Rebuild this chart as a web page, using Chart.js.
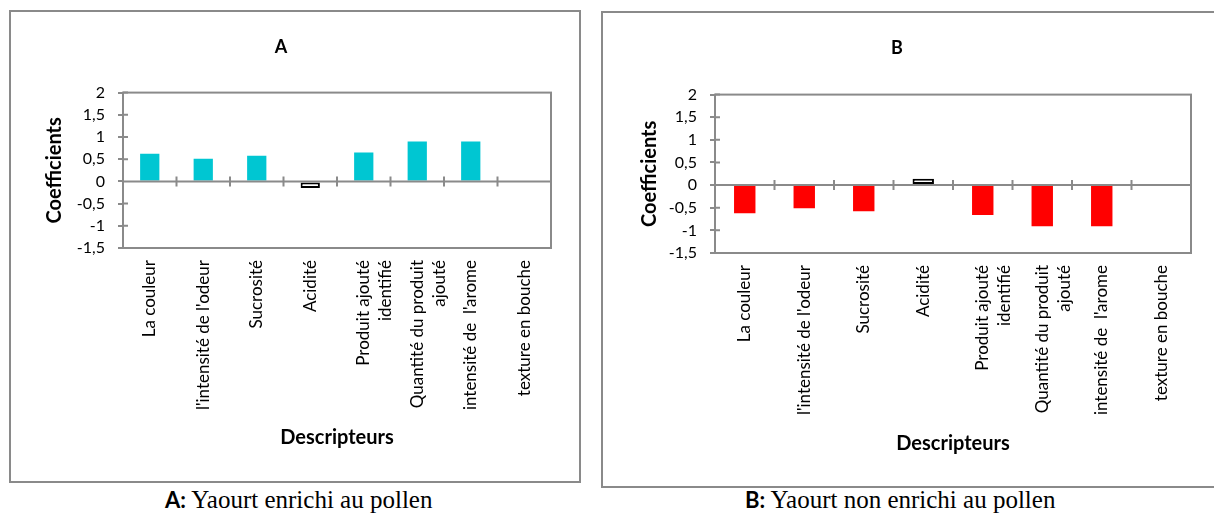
<!DOCTYPE html>
<html>
<head>
<meta charset="utf-8">
<script src="https://cdn.jsdelivr.net/npm/chart.js@4.4.1/dist/chart.umd.min.js"></script>
<style>
  html, body { margin: 0; padding: 0; background: #fff; width: 1214px; height: 521px; overflow: hidden; }
  .frame { position: absolute; border: 2px solid #8a8a8a; box-sizing: border-box; }
  .frame div { position: relative; width: 100%; height: 100%; }
  .caption { position: absolute; top: 486px; font-family: 'Liberation Serif', 'Times New Roman', serif; font-size: 25px; color: #000; white-space: nowrap; }
  .caption b { font-family: Lato, 'Open Sans', sans-serif; font-weight: 700; font-size: 22px; }
</style>
</head>
<body>
<div class="frame" style="left:9px; top:10px; width:572px; height:473px;"><div><canvas id="chartA"></canvas></div></div>
<div class="frame" style="left:601px; top:11px; width:620px; height:477px;"><div><canvas id="chartB"></canvas></div></div>
<div class="caption" style="left:165px;"><b>A:</b> Yaourt enrichi au pollen</div>
<div class="caption" style="left:745px;"><b>B:</b> Yaourt non enrichi au pollen</div>
<script>
'use strict'

const categories = [
  'La couleur',
  "l'intensité de l'odeur",
  'Sucrosité',
  'Acidité',
  ['Produit ajouté', 'identifié'],
  ['Quantité du produit', 'ajouté'],
  "intensité de  l'arome",
  'texture en bouche',
]

const valuesA = [0.62, 0.51, 0.58, -0.15, 0.65, 0.9, 0.9, 0]
const valuesB = [-0.62, -0.51, -0.58, 0.14, -0.66, -0.91, -0.91, 0]

const yTicks = [-1.5, -1, -0.5, 0, 0.5, 1, 1.5, 2]

const font = 'Lato'
const gray = '#8a8a8a'

// frame around plot area, inner half of the y ticks, zero line with category ticks
const plotFrame = {
  id: 'plotFrame',
  afterDatasetsDraw(chart) {
    const { ctx, chartArea, scales } = chart
    ctx.save()
    ctx.strokeStyle = gray
    ctx.lineWidth = 2
    ctx.strokeRect(chartArea.left, chartArea.top, chartArea.right - chartArea.left, chartArea.bottom - chartArea.top)
    ctx.beginPath()
    scales.y.ticks.forEach((t) => {
      const y = scales.y.getPixelForValue(t.value)
      ctx.moveTo(chartArea.left, y)
      ctx.lineTo(chartArea.left + 5, y)
    })
    const y0 = scales.y.getPixelForValue(0)
    ctx.moveTo(chartArea.left, y0)
    ctx.lineTo(chartArea.right, y0)
    for (let i = 1; i < categories.length; i++) {
      const x = (scales.x.getPixelForValue(i - 1) + scales.x.getPixelForValue(i)) / 2
      ctx.moveTo(x, y0 - 5)
      ctx.lineTo(x, y0 + 5)
    }
    ctx.stroke()
    ctx.restore()
  },
}

function makeChart(id, title, values, color, p) {
  const ctx = document.getElementById(id).getContext('2d')
  const colors = values.map((v, i) => (i === 3 ? '#ffffff' : color))
  const borders = values.map((v, i) => (i === 3 ? '#000000' : color))
  const widths = values.map((v, i) => (i === 3 ? 2 : 0))

  return new Chart(ctx, {
    type: 'bar',
    data: {
      labels: categories,
      datasets: [
        {
          data: values,
          backgroundColor: colors,
          borderColor: borders,
          borderWidth: widths,
          borderSkipped: false,
          categoryPercentage: 1,
          barPercentage: 0.36,
        },
      ],
    },
    options: {
      responsive: true,
      maintainAspectRatio: false,
      animation: false,
      layout: { padding: { left: 0, right: 28, top: 0, bottom: 0 } },
      scales: {
        x: {
          grid: { display: false, drawTicks: false },
          border: { display: false },
          ticks: {
            autoSkip: false,
            minRotation: 90,
            maxRotation: 90,
            padding: 12,
            color: '#000',
            font: { family: font, size: 17, lineHeight: 1.3 },
          },
          title: {
            display: true,
            text: 'Descripteurs',
            color: '#000',
            font: { family: font, size: 20, weight: 'bold' },
            padding: { top: 0, bottom: p.xTitleBottom },
          },
          afterFit: (s) => { s.height = p.xHeight },
        },
        y: {
          min: -1.5,
          max: 2,
          afterBuildTicks: (s) => { s.ticks = yTicks.map((v) => ({ value: v })) },
          grid: {
            drawOnChartArea: false,
            drawTicks: true,
            tickLength: 5,
            color: gray,
            lineWidth: 2,
          },
          border: { display: true, color: gray, width: 2 },
          ticks: {
            autoSkip: false,
            padding: 13,
            color: '#000',
            font: { family: font, size: 16 },
            callback: (v) => String(v).replace('.', ','),
          },
          title: {
            display: true,
            text: 'Coefficients',
            color: '#000',
            font: { family: font, size: 20, weight: 'bold' },
            padding: { top: p.yTitleTop, bottom: 0 },
          },
          afterFit: (s) => { s.width = 112 },
        },
      },
      plugins: {
        legend: { display: false },
        tooltip: { enabled: false },
        title: {
          display: true,
          text: title,
          color: '#000',
          font: { family: font, size: 18, weight: 'bold' },
          padding: { top: p.titleTop, bottom: p.titleBottom },
        },
      },
    },
    plugins: [plotFrame],
  })
}

makeChart('chartA', 'A', valuesA, '#00c6d2', { titleTop: 24, titleBottom: 35, xHeight: 233, xTitleBottom: 31, yTitleTop: 32 })
makeChart('chartB', 'B', valuesB, '#ff0000', { titleTop: 24, titleBottom: 36, xHeight: 233, xTitleBottom: 30, yTitleTop: 35 })
</script>
</body>
</html>
